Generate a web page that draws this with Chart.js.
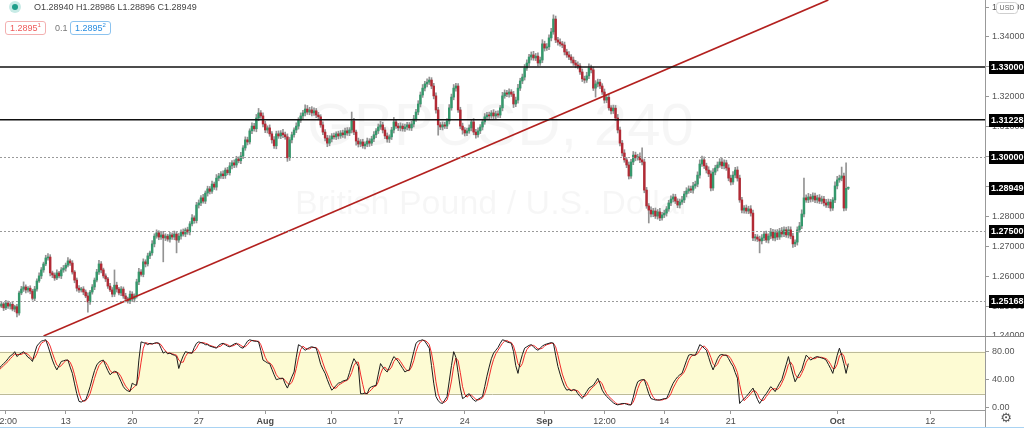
<!DOCTYPE html>
<html><head><meta charset="utf-8">
<script src="https://cdn.jsdelivr.net/npm/chart.js@4.4.1/dist/chart.umd.min.js"></script>
<style>
html,body{margin:0;padding:0;background:#fff;width:1024px;height:428px;overflow:hidden;font-family:"Liberation Sans",Arial,sans-serif;}
canvas{position:absolute;left:0;}
#c1{top:0;} #c2{top:336px;}
.hd{position:absolute;font-size:9px;white-space:nowrap;}
.box{position:absolute;top:21px;height:12px;line-height:12px;border-radius:3px;font-size:9px;padding:0 4px;background:#fff;}
sup{font-size:6px;vertical-align:4px;line-height:0;}
</style></head><body>
<canvas id="c1" width="1024" height="336"></canvas>
<canvas id="c2" width="1024" height="92"></canvas>
<div style="position:absolute;left:9px;top:1px;width:12px;height:12px;border-radius:50%;background:#c8ebe6"></div>
<div style="position:absolute;left:12px;top:4px;width:6px;height:6px;border-radius:50%;background:#1e9e8a"></div>
<div class="hd" id="ohlc" style="left:34px;top:2px;color:#444"></div>
<div class="box" id="bid" style="left:5px;border:1px solid #f3b0b0;color:#ee5a5a"></div>
<div class="hd" id="spr" style="left:55px;top:23px;color:#777"></div>
<div class="box" id="ask" style="left:70px;border:1px solid #8cc3ef;color:#2a8ee0"></div>
<script>
// ---------- DATA ----------
const lastOHLC = [1.28940, 1.28986, 1.28896, 1.28949];
const bidPrice = 1.28951, askPrice = 1.28952, spreadText = '0.1';
const firstOpen = 1.2504;
const closes = [
1.2500,1.2507,1.2494,1.2510,1.2500,1.2506,1.2490,1.2498,1.2477,1.2544,
1.2557,1.2564,1.2554,1.2560,1.2550,1.2526,1.2557,1.2584,1.2601,1.2621,
1.2641,1.2661,1.2664,1.2611,1.2604,1.2594,1.2611,1.2601,1.2621,1.2627,
1.2637,1.2651,1.2644,1.2614,1.2587,1.2560,1.2554,1.2557,1.2547,1.2534,
1.2514,1.2547,1.2564,1.2587,1.2614,1.2641,1.2621,1.2601,1.2591,1.2567,
1.2554,1.2540,1.2570,1.2557,1.2544,1.2557,1.2534,1.2524,1.2517,1.2540,
1.2524,1.2534,1.2581,1.2614,1.2606,1.2648,1.2641,1.2668,1.2678,1.2708,
1.2734,1.2745,1.2731,1.2738,1.2728,1.2734,1.2724,1.2738,1.2731,1.2741,
1.2721,1.2734,1.2748,1.2741,1.2755,1.2748,1.2775,1.2795,1.2786,1.2838,
1.2845,1.2862,1.2851,1.2878,1.2892,1.2884,1.2908,1.2898,1.2928,1.2935,
1.2942,1.2936,1.2955,1.2946,1.2969,1.2979,1.2972,1.2992,1.2986,1.3002,
1.3029,1.3056,1.3049,1.3086,1.3102,1.3093,1.3129,1.3146,1.3136,1.3109,
1.3089,1.3096,1.3076,1.3056,1.3036,1.3076,1.3069,1.3079,1.3073,1.3066,
1.2996,1.3056,1.3073,1.3089,1.3102,1.3122,1.3136,1.3146,1.3159,1.3149,
1.3156,1.3146,1.3153,1.3139,1.3133,1.3106,1.3082,1.3062,1.3045,1.3059,
1.3069,1.3066,1.3076,1.3069,1.3079,1.3073,1.3086,1.3079,1.3089,1.3119,
1.3082,1.3052,1.3042,1.3049,1.3036,1.3042,1.3052,1.3045,1.3059,1.3073,
1.3086,1.3099,1.3106,1.3089,1.3069,1.3059,1.3066,1.3089,1.3116,1.3102,
1.3096,1.3102,1.3093,1.3099,1.3106,1.3096,1.3109,1.3126,1.3149,1.3176,
1.3206,1.3229,1.3243,1.3249,1.3256,1.3236,1.3203,1.3156,1.3106,1.3099,
1.3106,1.3102,1.3119,1.3163,1.3199,1.3229,1.3236,1.3156,1.3102,1.3089,
1.3079,1.3086,1.3096,1.3116,1.3082,1.3073,1.3086,1.3099,1.3116,1.3133,
1.3139,1.3136,1.3146,1.3136,1.3143,1.3139,1.3163,1.3203,1.3213,1.3209,
1.3216,1.3209,1.3176,1.3189,1.3229,1.3253,1.3266,1.3296,1.3313,1.3333,
1.3340,1.3330,1.3336,1.3313,1.3323,1.3377,1.3363,1.3367,1.3397,1.3417,
1.3460,1.3390,1.3383,1.3377,1.3373,1.3350,1.3340,1.3333,1.3323,1.3313,
1.3306,1.3303,1.3283,1.3260,1.3256,1.3270,1.3296,1.3290,1.3229,1.3243,
1.3249,1.3236,1.3216,1.3189,1.3198,1.3163,1.3153,1.3162,1.3129,1.3089,
1.3045,1.3012,1.2989,1.2972,1.2935,1.2982,1.3005,1.2996,1.2999,1.2989,
1.2982,1.2888,1.2835,1.2821,1.2808,1.2818,1.2801,1.2815,1.2795,1.2805,
1.2811,1.2825,1.2845,1.2858,1.2865,1.2851,1.2838,1.2848,1.2855,1.2875,
1.2885,1.2892,1.2888,1.2902,1.2908,1.2938,1.2975,1.2989,1.2969,1.2955,
1.2942,1.2895,1.2948,1.2962,1.2972,1.2982,1.2969,1.2979,1.2962,1.2928,
1.2915,1.2938,1.2955,1.2928,1.2855,1.2821,1.2828,1.2818,1.2825,1.2811,
1.2728,1.2731,1.2724,1.2718,1.2728,1.2741,1.2721,1.2734,1.2748,1.2728,
1.2745,1.2731,1.2751,1.2741,1.2755,1.2738,1.2755,1.2734,1.2708,1.2714,
1.2755,1.2768,1.2808,1.2862,1.2855,1.2865,1.2858,1.2868,1.2855,1.2862,
1.2851,1.2858,1.2845,1.2838,1.2848,1.2828,1.2855,1.2902,1.2922,1.2928,
1.2935,1.2828,1.2894,1.28949];
// wick lengths above / below the body, in pips
const upWick = [
6,8,5,9,7,6,10,5,8,6,9,17,7,5,8,6,9,7,10,8,
6,9,12,8,6,7,10,5,8,9,7,11,6,8,5,7,9,6,8,7,
10,6,8,7,9,12,8,6,7,5,9,8,51,10,6,8,7,9,6,10,
8,7,9,12,8,10,7,9,6,11,8,10,7,9,12,8,6,9,7,10,
8,9,7,10,6,9,8,11,7,9,10,8,12,7,9,8,10,7,12,9,
8,10,7,9,11,8,10,9,7,12,8,10,9,7,11,9,12,15,8,10,
9,7,10,8,11,9,10,8,12,9,10,8,9,7,11,8,10,9,14,12,
9,11,10,8,9,7,10,8,9,11,8,10,7,9,8,10,9,11,8,30,
9,7,10,8,9,7,10,8,9,11,8,10,12,9,8,10,7,9,15,8,
9,11,8,10,9,8,10,12,9,11,10,12,9,11,10,8,9,10,9,8,
10,9,8,11,10,12,9,8,9,10,8,9,10,8,11,9,10,8,9,11,
9,10,8,11,9,10,8,12,10,9,11,8,9,10,13,9,10,12,11,9,
10,12,9,11,10,14,9,11,10,12,14,10,9,11,8,10,9,11,8,10,
9,11,8,10,9,12,14,10,9,11,10,9,8,10,9,11,8,10,9,12,
10,9,11,8,10,9,12,10,9,14,40,10,9,8,11,9,10,8,12,9,
10,8,9,11,10,9,8,10,12,9,11,10,9,12,10,11,14,13,10,9,
11,10,12,9,10,11,13,10,9,11,10,12,9,11,10,9,8,10,9,11,
10,9,8,10,11,9,10,8,12,9,10,11,9,12,10,9,11,10,9,8,
10,12,14,66,10,12,9,11,10,9,11,10,9,12,10,9,8,14,12,10,
30,10,85,3.7];
const downWick = [
7,5,9,6,8,10,6,9,13,7,6,8,10,7,9,6,8,7,5,9,
8,6,7,10,9,8,6,7,9,8,10,6,8,7,9,10,8,7,9,6,
34,8,7,9,6,8,10,7,9,8,6,9,8,10,7,9,8,10,7,9,
8,10,7,9,6,8,10,7,9,8,10,7,9,8,80,9,7,10,8,9,
43,8,10,7,9,8,10,7,9,8,10,9,7,8,10,9,7,8,10,9,
8,10,9,7,8,10,9,8,7,10,9,8,10,7,9,8,10,9,8,10,
9,10,8,11,9,10,8,9,10,8,12,9,10,8,9,10,8,9,10,8,
9,10,8,9,10,8,9,10,12,9,10,8,9,10,8,9,11,8,9,10,
9,14,10,9,8,10,9,11,8,9,10,9,8,10,9,11,12,9,10,8,
9,10,8,9,10,8,9,10,8,9,10,8,9,10,8,9,10,11,34,9,
10,8,9,10,8,9,10,8,9,14,10,9,8,10,9,11,8,9,10,8,
9,10,8,9,10,8,9,10,8,9,10,8,12,9,10,8,9,10,8,9,
10,8,9,10,8,9,10,8,9,10,8,9,10,8,9,10,8,9,10,8,
9,10,8,9,10,8,9,10,8,30,10,9,8,10,9,8,10,9,8,10,
9,10,8,9,10,8,9,10,8,9,10,9,8,43,10,9,8,10,9,8,
9,10,8,9,10,8,9,10,8,9,10,8,9,10,8,9,10,8,9,10,
9,10,8,9,10,8,9,10,8,9,10,8,9,10,8,9,10,8,9,10,
9,10,8,40,10,9,8,10,9,8,10,9,8,10,9,8,10,9,12,9,
10,8,9,10,8,9,10,8,9,10,8,9,10,8,9,10,8,9,10,8,
9,10,8,4.4];
const stochK = [
56,60,63,66,70,74,76,80,73,76,78,80,76,72,70,66,78,88,92,95,
96,97,88,78,68,60,54,60,66,67,68,68,58,49,34,20,9,8,10,11,
20,30,42,53,61,65,67,68,60,53,47,50,52,51,44,37,30,26,24,23,
35,33,32,68,94,93,92,90,92,91,92,93,92,85,78,80,77,78,76,75,
73,56,66,74,80,79,78,78,86,92,94,93,92,90,90,88,87,86,85,89,
91,92,90,88,87,89,91,92,89,86,85,90,95,97,96,95,95,94,82,68,
66,64,63,55,47,40,41,42,42,34,28,36,44,51,72,90,88,85,82,84,
86,87,86,85,74,62,55,49,40,32,25,28,32,35,36,38,39,40,50,61,
70,65,59,20,20,21,20,28,30,31,32,48,63,58,54,51,58,66,73,70,
66,61,56,51,53,54,67,80,92,95,96,97,95,90,85,60,35,16,10,7,
6,11,16,38,60,80,72,50,28,13,15,18,20,15,11,9,12,14,16,30,
45,58,70,78,82,86,92,97,96,94,93,92,80,60,49,65,76,85,87,89,
90,87,84,82,85,88,90,91,92,93,92,75,59,48,38,30,25,26,24,26,
25,20,16,13,18,23,28,30,32,37,42,34,25,20,16,13,10,7,5,4,
5,6,6,5,4,4,15,28,37,39,40,40,30,20,13,12,11,11,11,12,
13,13,20,28,35,40,44,47,49,58,67,75,76,75,75,82,90,88,85,82,
72,62,54,62,70,75,76,75,75,70,64,59,50,42,6,10,13,16,20,24,
28,20,12,6,11,16,20,25,30,27,23,29,35,40,51,62,73,60,48,37,
43,49,54,65,75,72,68,70,72,73,72,71,70,68,62,56,49,62,75,85,
75,63,49,63];
const stochD = [
54,57,60,63,66,70,73,77,76,76,76,78,78,76,73,69,71,77,86,92,
94,96,94,88,78,69,61,58,60,64,67,68,65,58,47,34,21,12,9,10,
14,20,31,42,52,60,64,67,65,60,53,50,50,51,49,44,37,31,27,24,
27,30,33,44,65,85,93,92,91,91,92,92,92,90,85,81,78,78,77,76,
75,68,65,65,73,78,79,78,81,85,91,93,93,92,91,89,88,87,86,87,
88,91,91,90,88,88,89,91,91,89,87,87,90,94,96,96,95,95,90,81,
72,66,64,61,55,47,43,41,42,39,35,33,36,44,56,71,83,88,85,84,
84,86,86,86,82,74,64,55,48,40,32,28,28,32,34,36,38,39,43,50,
60,65,65,48,33,20,20,23,26,30,31,37,48,56,58,54,54,58,66,70,
70,66,61,56,53,53,58,67,80,89,94,96,96,94,90,78,60,37,20,11,
8,8,11,22,38,59,71,67,50,30,19,15,18,18,15,12,11,12,14,20,
30,44,58,69,77,82,87,92,95,96,94,93,88,77,63,58,63,75,83,87,
89,89,87,84,84,85,88,90,91,92,92,87,75,61,48,39,31,27,25,25,
25,24,20,16,16,18,23,27,30,33,37,38,34,26,20,16,13,10,7,5,
5,5,6,6,5,4,8,16,27,35,39,40,37,30,21,15,12,11,11,11,
12,13,15,20,28,34,40,44,47,51,58,67,73,75,75,77,82,87,88,85,
80,72,63,59,62,69,74,75,75,74,70,64,58,50,33,19,10,13,16,20,
24,24,20,13,10,11,16,20,25,27,27,26,29,35,42,51,62,65,60,48,
43,43,49,56,65,70,72,70,70,72,72,72,71,70,67,62,56,56,62,74,
78,74,62,58];
const solidLevels = [1.33, 1.31228];
const dottedLevels = [1.30, 1.275, 1.25168];
const trendLine = [{x:20, y:1.2400}, {x:374, y:1.3524}];
const priceTicks = [1.24,1.25,1.26,1.27,1.28,1.29,1.30,1.31,1.32,1.33,1.34,1.35];
const stochTicks = [0, 40, 80];
const stochBand = [20, 80];
const xTickIdx = [3,30,60,90,120,150,180,210,246,273,300,330,378,420];
const xTickLabels = ['12:00','13','20','27','Aug','10','17','24','Sep','12:00','14','21','Oct','12'];
const monthLabels = ['Aug','Sep','Oct'];
const watermarkTitle = 'GBPUSD, 240';
const watermarkSub = 'British Pound / U.S. Dollar';
const currencyLabel = 'USD';

// ---------- SETUP ----------
const FONT = '"Liberation Sans", Arial, sans-serif';
Chart.defaults.font.family = FONT;
const xMin = 0.36, xMax = 444.66;
const GREEN = '#35986c', RED = '#b22a35', WICK = '#939393';
const fmt5 = v => v.toFixed(5);

const opens = closes.map((c,i) => i === 0 ? firstOpen : closes[i-1]);
const highs = closes.map((c,i) => Math.max(opens[i], c) + upWick[i]/10000);
const lows = closes.map((c,i) => Math.min(opens[i], c) - downWick[i]/10000);
const idx = closes.map((_,i) => i);

document.getElementById('ohlc').textContent =
  'O' + fmt5(lastOHLC[0]) + '  H' + fmt5(lastOHLC[1]) + '  L' + fmt5(lastOHLC[2]) + '  C' + fmt5(lastOHLC[3]);
const supHTML = v => { const s = fmt5(v); return s.slice(0,-1) + '<sup>' + s.slice(-1) + '</sup>'; };
document.getElementById('bid').innerHTML = supHTML(bidPrice);
document.getElementById('ask').innerHTML = supHTML(askPrice);
document.getElementById('spr').textContent = spreadText;

const fixY = s => { s.width = 39; s.paddingTop = 0; s.paddingBottom = 0; };

const wmPlugin = {
  id: 'wm',
  beforeDatasetsDraw(chart) {
    const {ctx, chartArea: a} = chart;
    const cx = (a.left + a.right) / 2;
    ctx.save();
    ctx.fillStyle = 'rgba(0,0,0,0.035)';
    ctx.textAlign = 'center'; ctx.textBaseline = 'middle';
    ctx.font = '60px ' + FONT;
    ctx.fillText(watermarkTitle, cx + 8, 128);
    ctx.font = '34px ' + FONT;
    ctx.fillText(watermarkSub, cx, 205);
    ctx.restore();
  }
};
const levelPlugin = {
  id: 'levels',
  afterDatasetsDraw(chart) {
    const {ctx, chartArea: a, scales: {y}} = chart;
    ctx.save();
    ctx.strokeStyle = '#111'; ctx.lineWidth = 1.5;
    solidLevels.forEach(v => {
      const py = y.getPixelForValue(v);
      ctx.beginPath(); ctx.moveTo(a.left, py); ctx.lineTo(a.right, py); ctx.stroke();
    });
    ctx.setLineDash([2,2]); ctx.lineWidth = 1; ctx.strokeStyle = '#9a9a9a';
    dottedLevels.forEach(v => {
      const py = Math.round(y.getPixelForValue(v)) + 0.5;
      ctx.beginPath(); ctx.moveTo(a.left, py); ctx.lineTo(a.right, py); ctx.stroke();
    });
    ctx.restore();
  },
  afterDraw(chart) {
    const {ctx, scales: {y}} = chart;
    ctx.save();
    const tags = solidLevels.concat(dottedLevels, [closes[closes.length-1]]);
    ctx.font = 'bold 9px ' + FONT; ctx.textBaseline = 'middle'; ctx.textAlign = 'left';
    tags.forEach(v => {
      const py = Math.round(y.getPixelForValue(v));
      ctx.fillStyle = '#000'; ctx.fillRect(y.left + 4, py - 6, 1024 - y.left - 4, 13);
      ctx.fillStyle = '#fff'; ctx.fillText(fmt5(v), y.left + 6, py + 1);
    });
    // currency box
    ctx.fillStyle = '#fff'; ctx.strokeStyle = '#cfcfcf'; ctx.lineWidth = 1;
    ctx.beginPath(); ctx.roundRect(y.left + 11.5, 2.5, 21, 11, 3); ctx.fill(); ctx.stroke();
    ctx.fillStyle = '#666'; ctx.font = '7px ' + FONT; ctx.textAlign = 'center';
    ctx.fillText(currencyLabel, y.left + 22, 8.5);
    ctx.restore();
  }
};

new Chart(document.getElementById('c1'), {
  type: 'bar',
  data: {
    datasets: [
      { type: 'line', data: trendLine, borderColor: '#b3211f', borderWidth: 1.6, pointRadius: 0, order: 0 },
      { data: idx.map(i => ({x: i, y: [lows[i], highs[i]]})), backgroundColor: WICK,
        barThickness: 1, grouped: false, borderWidth: 0, order: 2 },
      { data: idx.map(i => ({x: i, y: [opens[i], closes[i]]})),
        backgroundColor: idx.map(i => closes[i] >= opens[i] ? GREEN : RED),
        barThickness: 1.8, minBarLength: 1, grouped: false, borderWidth: 0, order: 1 }
    ]
  },
  options: {
    responsive: false, animation: false, events: [],
    layout: {padding: 0},
    plugins: {legend: {display: false}, tooltip: {enabled: false}},
    scales: {
      x: {type: 'linear', min: xMin, max: xMax, display: false, offset: false, grid: {offset: false}},
      y: {type: 'linear', position: 'right', min: 1.24, max: 1.35237,
          afterFit: fixY,
          afterBuildTicks: s => { s.ticks = priceTicks.map(v => ({value: v})); },
          ticks: {callback: v => fmt5(v), font: {size: 9}, color: '#555', padding: 3},
          grid: {drawOnChartArea: false, tickLength: 4, color: '#999'},
          border: {color: '#999'}}
    }
  },
  plugins: [wmPlugin, levelPlugin]
});

const bandPlugin = {
  id: 'band',
  beforeDatasetsDraw(chart) {
    const {ctx, chartArea: a, scales: {y}} = chart;
    const yTop = y.getPixelForValue(stochBand[1]), yBot = y.getPixelForValue(stochBand[0]);
    ctx.save();
    ctx.fillStyle = '#fdfbd3';
    ctx.fillRect(a.left, yTop, a.right - a.left, yBot - yTop);
    ctx.strokeStyle = '#bdbb98'; ctx.lineWidth = 1;
    [yTop, yBot].forEach(p => { const q = Math.round(p) + 0.5; ctx.beginPath(); ctx.moveTo(a.left, q); ctx.lineTo(a.right, q); ctx.stroke(); });
    ctx.restore();
  },
  afterDraw(chart) {
    const {ctx, chartArea: a} = chart;
    ctx.save();
    ctx.strokeStyle = '#8c8c8c'; ctx.lineWidth = 1;
    ctx.beginPath(); ctx.moveTo(0, 0.5); ctx.lineTo(1024, 0.5); ctx.stroke();
    ctx.strokeStyle = '#999';
    ctx.beginPath(); ctx.moveTo(a.right + 0.5, a.bottom); ctx.lineTo(a.right + 0.5, 92); ctx.stroke();
    ctx.strokeStyle = '#a9d3f3';
    ctx.beginPath(); ctx.moveTo(0, 91.5); ctx.lineTo(1024, 91.5); ctx.stroke();
    ctx.fillStyle = '#555'; ctx.font = '13px "DejaVu Sans"'; ctx.textAlign = 'center'; ctx.textBaseline = 'middle';
    ctx.fillText('\u2699', 1006, 83);
    ctx.restore();
  }
};

new Chart(document.getElementById('c2'), {
  type: 'line',
  data: {
    datasets: [
      { data: idx.map(i => ({x: i, y: stochK[i]})), borderColor: '#1c1c1c', borderWidth: 1, pointRadius: 0, order: 0 },
      { data: idx.map(i => ({x: i, y: stochD[i]})), borderColor: '#f22b2b', borderWidth: 1, pointRadius: 0, order: 1 }
    ]
  },
  options: {
    responsive: false, animation: false, events: [],
    layout: {padding: 0},
    plugins: {legend: {display: false}, tooltip: {enabled: false}},
    scales: {
      x: {type: 'linear', position: 'bottom', min: xMin, max: xMax,
          afterFit: s => { s.height = 18; s.paddingLeft = 0; s.paddingRight = 0; },
          afterBuildTicks: s => { s.ticks = xTickIdx.map(v => ({value: v})); },
          ticks: {autoSkip: false, maxRotation: 0, padding: 2, color: '#4a4a4a',
                  callback: (v, i) => xTickLabels[i],
                  font: c => ({size: 9, weight: monthLabels.includes(xTickLabels[c.index]) ? 'bold' : 'normal'})},
          grid: {drawOnChartArea: false, tickLength: 4, color: '#999'},
          border: {color: '#999'}},
      y: {type: 'linear', position: 'right', min: -3.3, max: 102.4,
          afterFit: fixY,
          afterBuildTicks: s => { s.ticks = stochTicks.map(v => ({value: v})); },
          ticks: {callback: v => v.toFixed(2), font: {size: 9}, color: '#555', padding: 3},
          grid: {drawOnChartArea: false, tickLength: 4, color: '#999'},
          border: {color: '#999'}}
    }
  },
  plugins: [bandPlugin]
});
</script>
</body></html>
